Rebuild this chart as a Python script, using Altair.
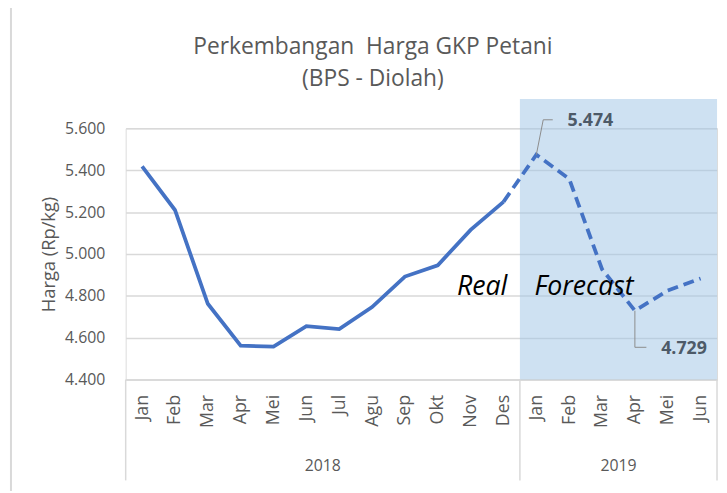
import altair as alt
import pandas as pd

months = ["Jan", "Feb", "Mar", "Apr", "Mei", "Jun", "Jul", "Agu", "Sep", "Okt", "Nov", "Des",
          "Jan", "Feb", "Mar", "Apr", "Mei", "Jun"]
years = ["2018"] * 12 + ["2019"] * 6
prices = [5418, 5210, 4762, 4562, 4557, 4655, 4641, 4746, 4892, 4946, 5115, 5249,
          5474, 5359, 4927, 4729, 4825, 4883]
real_end = 11  # last real (non-forecast) month index

year_labels = ["2018", "2019"]
year_centers = [5.5, 14.5]
year_bounds = [-0.5, 11.5, 17.5]

callout_values = ["5.474", "4.729"]
title_lines = ["Perkembangan\u00a0 Harga GKP Petani", "(BPS - Diolah)"]
y_ticks = [4400, 4600, 4800, 5000, 5200, 5400, 5600]

W, H = 598, 254
BLUE = "#4472c4"
GRAY = "#595959"
FONT = "Open Sans"

idx = list(range(len(months)))
df = pd.DataFrame({"i": idx, "month": months, "year": years, "price": prices})
solid = df[df.i <= real_end]
dashed = df[df.i >= real_end]

x_scale = alt.Scale(domain=[-0.5, 17.5], nice=False, zero=False)
y_scale = alt.Scale(domain=[4400, 5600], nice=False, zero=False)

label_expr = "[" + ",".join("'%s'" % m for m in months) + "][datum.value]"

x_axis = alt.Axis(
    values=idx, labelExpr=label_expr, labelAngle=-90, labelAlign="right",
    labelBaseline="middle", labelPadding=15, ticks=False, tickSize=0, grid=False,
    labelOverlap=False, labelBound=False, labelFlush=False,
    domainColor="#d9d9d9", domainWidth=1.5, labelColor=GRAY, labelFontSize=18,
    labelFont=FONT, title=None)
y_axis = alt.Axis(
    values=y_ticks,
    labelExpr="replace(format(datum.value, ','), ',', '.')",
    grid=True, gridColor="#d9d9d9", gridWidth=1.5, domain=False, ticks=False,
    tickSize=0, labelPadding=21, labelColor=GRAY, labelFontSize=16, labelFont=FONT,
    labelOverlap=False,
    title="Harga (Rp/kg)", titleFont=FONT, titleFontSize=18.5, titleFontWeight="normal",
    titleColor=GRAY, titleX=-78, titleY=H / 2, titleAlign="center",
    titleBaseline="middle", titleAngle=-90)


def X(field):
    return alt.X(field, scale=x_scale, axis=x_axis)


def Y(field):
    return alt.Y(field, scale=y_scale, axis=y_axis)


# shaded forecast region
shade_df = pd.DataFrame({"x": [year_bounds[1]], "x2": [year_bounds[2]], "y": [4400], "y2": [5740]})
shade = alt.Chart(shade_df).mark_rect(color="#9dc3e6", opacity=0.5).encode(
    x=X("x:Q"), x2="x2:Q", y=Y("y:Q"), y2="y2:Q")

line_solid = alt.Chart(solid).mark_line(color=BLUE, strokeWidth=3.8).encode(
    x=X("i:Q"), y=Y("price:Q"))
line_dash = alt.Chart(dashed).mark_line(color=BLUE, strokeWidth=3.8, strokeDash=[11, 6]).encode(
    x=X("i:Q"), y=Y("price:Q"))

# callout leader lines (relative to the point)
lead_df = pd.DataFrame({
    "g": ["a", "a", "a", "b", "b", "b"],
    "o": [0, 1, 2, 0, 1, 2],
    "x": [12, 12.21, 12.5, 15, 15, 15.35],
    "y": [prices[12], prices[12] + 167, prices[12] + 167, prices[15], prices[15] - 175, prices[15] - 175],
})
leaders = alt.Chart(lead_df).mark_line(color="#8c8c8c", strokeWidth=1).encode(
    x=X("x:Q"), y=Y("y:Q"), detail="g:N", order="o:Q")

callout_df = pd.DataFrame({"t": callout_values, "x": [12.95, 15.8],
                           "y": [prices[12] + 160, prices[15] - 182]})
callouts = alt.Chart(callout_df).mark_text(
    align="left", baseline="middle", font=FONT, fontSize=18, fontWeight="bold", color="#4d5a68"
).encode(x=X("x:Q"), y=Y("y:Q"), text="t:N")

note_df = pd.DataFrame({"t": ["Real", "Forecast"], "x": [10.35, 13.45], "y": [4840, 4840]})
notes = alt.Chart(note_df).mark_text(
    align="center", baseline="middle", font=FONT, fontSize=27, fontStyle="italic", color="#000000"
).encode(x=X("x:Q"), y=Y("y:Q"), text="t:N")

sep_df = pd.DataFrame({"x": year_bounds})
seps = alt.Chart(sep_df).mark_rule(color="#d9d9d9", strokeWidth=1.5).encode(
    x=X("x:Q"), y=alt.value(H), y2=alt.value(H + 102))

yl_df = pd.DataFrame({"t": year_labels, "x": year_centers})
ylabels = alt.Chart(yl_df).mark_text(
    align="center", baseline="middle", font=FONT, fontSize=16, color=GRAY
).encode(x=X("x:Q"), y=alt.value(H + 87), text="t:N")

# chart title drawn as text
title1 = alt.Chart(pd.DataFrame({"t": [title_lines[0]]})).mark_text(
    align="center", baseline="alphabetic", font=FONT, fontSize=23, color=GRAY
).encode(x=alt.value(250), y=alt.value(-75), text="t:N")
title2 = alt.Chart(pd.DataFrame({"t": [title_lines[1]]})).mark_text(
    align="center", baseline="alphabetic", font=FONT, fontSize=23, color=GRAY
).encode(x=alt.value(250), y=alt.value(-43), text="t:N")

# outer chart frame (top and left edges)
frame_top = alt.Chart(pd.DataFrame({"a": [0]})).mark_rule(color="#d9d9d9", strokeWidth=2).encode(
    x=alt.value(-116), x2=alt.value(W + 10), y=alt.value(-123))
frame_left = alt.Chart(pd.DataFrame({"a": [0]})).mark_rule(color="#d9d9d9", strokeWidth=2).encode(
    x=alt.value(-116), y=alt.value(-123), y2=alt.value(H + 120))

chart = alt.layer(frame_top, frame_left, shade, seps, ylabels, line_solid, line_dash,
                  leaders, callouts, notes, title1, title2).properties(
    width=W, height=H,
    autosize=alt.AutoSizeParams(type="none"),
    padding={"left": 119, "top": 119, "right": 2, "bottom": 110},
).configure_view(stroke=None).configure(background="white")

chart.save("out.html", embed_options={"renderer": "svg", "actions": False})
